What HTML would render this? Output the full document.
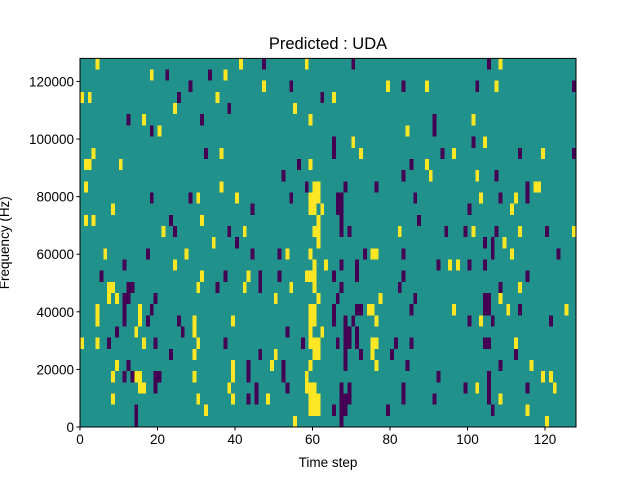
<!DOCTYPE html>
<html><head><meta charset="utf-8"><style>
body{margin:0;background:#fff;width:640px;height:480px;overflow:hidden}
text{font-family:"Liberation Sans","DejaVu Sans",sans-serif;fill:#000}
</style></head><body>
<svg id="chart" width="640" height="480" xmlns="http://www.w3.org/2000/svg">
<rect width="640" height="480" fill="#fff"/>
<g id="cells" shape-rendering="crispEdges"></g>
<g id="axes"></g>
</svg>
<script>
// rows listed from top (highest frequency bin) to bottom; values = time steps
const yellowRows = [
[4,41,58,108],[18,37],[47,79,89,107],[0,2,35,65],[24,55],[16,59,101],[20,84],[70,104],
[3,36,72,96,119],[1,2,10,59,89],[90,102],[1,36,60,61,117,118],[30,40,59,60,61,103,112],
[8,59,60,62,111],[1,3,31,61],[21,42,60,61,82,101,113,127],[34,61,109],[6,27,53,59,75,76,111],
[24,60,63,95,97],[31,43,58,59,60],[7,8,30,42,54,60,113],[7,9,50,61,77,108],
[4,15,59,60,74,75,96,110,125],[4,15,29,39,59,60,76,103],[14,29,59,62],
[0,4,16,30,59,60,61,75,76,112],[29,50,60,61,75],[9,39,49,59,76,116],
[8,14,15,29,39,58,119,121],[15,16,38,58,59,60,102,122],[8,30,39,48,59,60,61,108],
[32,59,60,61,115],[55,120]];
const purpleRows = [
[47,70,105],[22,33],[28,54,83,102,127],[25,62],[38],[12,31,91],[18,91],[65,101],
[32,65,93,113,127],[56,85],[52,83,107],[58,68,76,115],[18,28,54,66,67,86,108,115],
[44,66,67,100],[23,67,87],[24,38,67,69,94,99,107,120],[40,104,106],[17,44,51,73,83,106,123],
[11,67,71,92,100,104],[5,37,46,51,65,71,83,115],[12,13,35,46,67,82,108],[11,12,19,66,86,104,105],
[11,18,65,71,72,85,104,105,113],[11,17,25,65,68,70,100,106,121],[9,26,53,68,69,71],
[7,19,37,57,66,68,69,71,81,85,104,105],[23,46,68,72,80,112],[12,43,52,68,84,108],
[11,13,19,20,43,52,92,105],[19,45,53,67,69,83,99,105,115],[43,45,67,68,69,83,91,105],
[14,65,67,68,79,106],[14,67]];
const xTicks = [0,20,40,60,80,100,120];
const yTicks = [0,20000,40000,60000,80000,100000,120000];
const nSteps = 128, nBins = 33, fMax = 128000;
const L=80,R=576,T=58.4,B=427;
const sx = t => L + (t/nSteps)*(R-L);
const sy = f => B - (f/fMax)*(B-T);
const NS="http://www.w3.org/2000/svg";
const cells=document.getElementById('cells'), axes=document.getElementById('axes');
function mk(tag,attrs,parent){const e=document.createElementNS(NS,tag);for(const k in attrs)e.setAttribute(k,attrs[k]);parent.appendChild(e);return e;}
const bg=mk('rect',{x:L,y:T,width:R-L,height:B-T,fill:'#21918c'},cells);


const binH=fMax/nBins;
function draw(rows,color,name){
  rows.forEach((row,k)=>{
    const bin=nBins-1-k;
    row.forEach(t=>{
      const y0=sy((bin+1)*binH), y1=sy(bin*binH);
      const r=mk('rect',{x:sx(t),y:y0,width:sx(t+1)-sx(t),height:y1-y0,fill:color},cells);
      
      
    });
  });
}
draw(yellowRows,'#fde725','cell-high');
draw(purpleRows,'#440154','cell-low');
const frame=mk('rect',{x:L,y:T,width:R-L,height:B-T,fill:'none',stroke:'#000','stroke-width':1},axes);


xTicks.forEach(t=>{
  const x=sx(t);
  mk('line',{x1:x,x2:x,y1:B,y2:B+3.5,stroke:'#000'},axes);
  const tx=mk('text',{x:x,y:B+17,'text-anchor':'middle','font-size':'13.5'},axes);
  tx.textContent=t;
  
  
});
yTicks.forEach(v=>{
  const y=sy(v);
  mk('line',{x1:L-3.5,x2:L,y1:y,y2:y,stroke:'#000'},axes);
  const tx=mk('text',{x:L-6,y:y+5,'text-anchor':'end','font-size':'13.5'},axes);
  tx.textContent=v;
  
  
});
const title=mk('text',{x:(L+R)/2,y:49,'text-anchor':'middle','font-size':'16.5'},axes);
title.textContent='Predicted : UDA';


const xl=mk('text',{x:(L+R)/2,y:467,'text-anchor':'middle','font-size':'13.5'},axes);
xl.textContent='Time step';


const yl=mk('text',{x:0,y:0,'text-anchor':'middle','font-size':'13.5',transform:'translate(9,'+((T+B)/2)+') rotate(-90)'},axes);
yl.textContent='Frequency (Hz)';


</script>
</body></html>
